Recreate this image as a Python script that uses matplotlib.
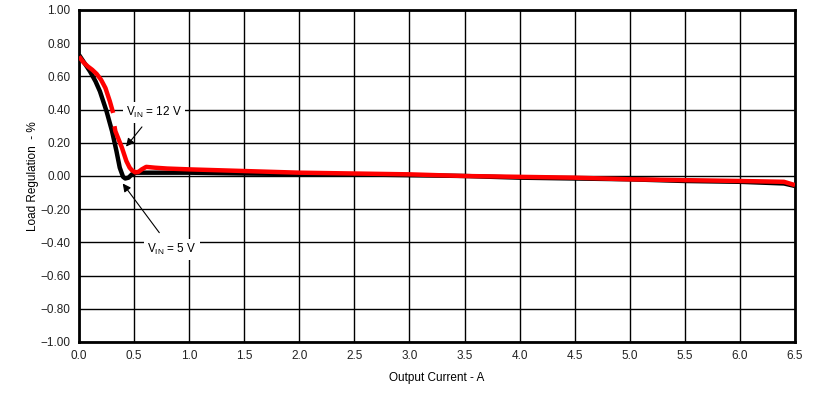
import numpy as np
import matplotlib
matplotlib.use("Agg")
import matplotlib.pyplot as plt

plt.rcParams['font.family'] = ['Liberation Sans', 'DejaVu Sans']
plt.rcParams['mathtext.fontset'] = 'custom'
plt.rcParams['mathtext.rm'] = 'Liberation Sans'

# 5 V curve (black)
x_5v = [0.0, 0.05, 0.1, 0.15, 0.19, 0.25, 0.3, 0.34, 0.37, 0.40, 0.42, 0.45, 0.48, 0.52, 0.6, 0.8, 1.0,
        1.5, 2.0, 2.5, 3.0, 3.5, 4.0, 4.5, 5.0, 5.5, 6.0, 6.4, 6.5]
y_5v = [0.73, 0.68, 0.63, 0.57, 0.51, 0.39, 0.27, 0.15, 0.05, -0.005, -0.015, -0.01, 0.01, 0.02, 0.02, 0.02, 0.02,
        0.015, 0.012, 0.01, 0.005, 0.0, -0.01, -0.015, -0.02, -0.03, -0.035, -0.045, -0.06]

# 12 V curve (red), with a small break near 0.32 A
x_12v = [0.0, 0.04, 0.08, 0.12, 0.16, 0.2, 0.24, 0.28, 0.31, 0.318, 0.322, 0.33, 0.36, 0.39, 0.43, 0.46,
         0.48, 0.51, 0.54, 0.57, 0.61, 0.69, 0.8, 1.0, 1.5, 2.0, 2.5, 3.0, 3.5, 4.0, 4.5, 5.0, 5.5,
         6.0, 6.4, 6.5]
y_12v = [0.72, 0.685, 0.66, 0.64, 0.615, 0.58, 0.53, 0.45, 0.38, np.nan, 0.30, 0.27, 0.22, 0.17, 0.09, 0.05,
         0.035, 0.022, 0.025, 0.04, 0.055, 0.05, 0.045, 0.04, 0.03, 0.02, 0.015, 0.01, 0.0, -0.005, -0.01,
         -0.02, -0.025, -0.03, -0.035, -0.055]

x_ticks = [0.0, 0.5, 1.0, 1.5, 2.0, 2.5, 3.0, 3.5, 4.0, 4.5, 5.0, 5.5, 6.0, 6.5]
y_ticks = [-1.0, -0.8, -0.6, -0.4, -0.2, 0.0, 0.2, 0.4, 0.6, 0.8, 1.0]

fig = plt.figure(figsize=(8.27, 4.01), dpi=100)
ax = fig.add_axes([79/827, 1-342/401, (795-79)/827, (342-10)/401])

ax.plot(x_5v, y_5v, color='black', lw=3.2, solid_capstyle='butt', zorder=3)
ax.plot(x_12v, y_12v, color='#ff0000', lw=3.2, solid_capstyle='butt', zorder=4)

ax.set_xlim(0, 6.5)
ax.set_ylim(-1, 1)
ax.set_xticks(x_ticks)
ax.set_xticklabels([f"{v:.1f}" for v in x_ticks])
ax.set_yticks(y_ticks)
ax.set_yticklabels([f"{v:.2f}".replace('-', '\u2212') for v in y_ticks])
ax.grid(True, color='black', lw=1.0)
ax.tick_params(length=0, labelsize=8.5, pad=6, colors='#222222')
for s in ax.spines.values():
    s.set_linewidth(2)

ax.set_xlabel('Output Current - A', fontsize=8.5, labelpad=7)
ax.set_ylabel('Load Regulation  - %', fontsize=8.5, labelpad=1)

bbox = dict(boxstyle='square,pad=0.25', fc='white', ec='none')
ax.annotate(r'V$_{\mathrm{IN}}$ = 12 V', xy=(0.427, 0.177), xytext=(0.68, 0.385),
            fontsize=8.5, ha='center', va='center', bbox=bbox, zorder=6,
            arrowprops=dict(arrowstyle='-|>', color='black', lw=0.8, mutation_scale=12,
                            shrinkA=4, shrinkB=0))
ax.annotate(r'V$_{\mathrm{IN}}$ = 5 V', xy=(0.397, -0.045), xytext=(0.845, -0.445),
            fontsize=8.5, ha='center', va='center', bbox=bbox, zorder=6,
            arrowprops=dict(arrowstyle='-|>', color='black', lw=0.8, mutation_scale=12,
                            shrinkA=6, shrinkB=0))

fig.savefig('out.png', dpi=100)
